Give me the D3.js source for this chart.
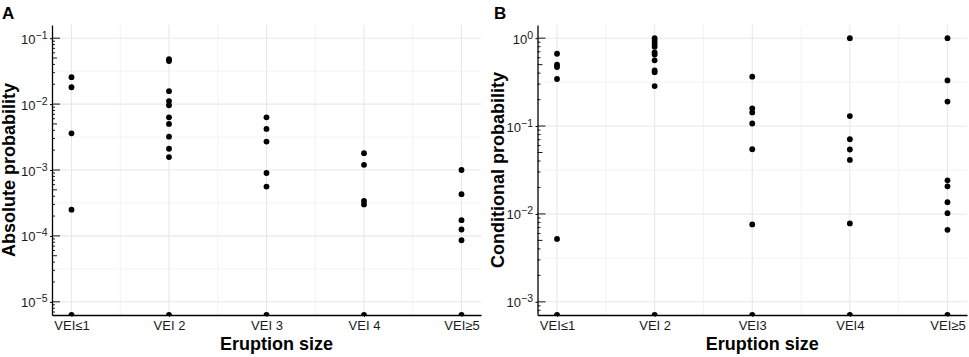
<!DOCTYPE html>
<html>
<head>
<meta charset="utf-8">
<script src="https://cdn.jsdelivr.net/npm/d3@7"></script>
<style>
    body { margin: 0; background: #fff; }
    text { font-family: "Liberation Sans", Arial, sans-serif; }
</style>
</head>
<body>
<div id="div-chart"></div>
<script>
/**
 * Data. 0 = no probability (drawn on the axis).
 */
var vei = [1, 2, 3, 4, 5];
var labelsA = ["VEI≤1", "VEI 2", "VEI 3", "VEI 4", "VEI≥5"];
var labelsB = ["VEI≤1", "VEI 2", "VEI3", "VEI4", "VEI≥5"];

var absVei1 = [0.0256, 0.018, 0.0036, 0.00025, 0];
var absVei2 = [0.048, 0.045, 0.0157, 0.0111, 0.0096, 0.0063, 0.0050, 0.0032, 0.0021, 0.00157, 0];
var absVei3 = [0.0063, 0.0042, 0.0027, 0.0009, 0.00056, 0];
var absVei4 = [0.0018, 0.0012, 0.00034, 0.0003, 0];
var absVei5 = [0.001, 0.00043, 0.000173, 0.000125, 0.000086, 0];

var condVei1 = [0.665, 0.50, 0.47, 0.343, 0.0052, 0];
var condVei2 = [1.0, 0.93, 0.86, 0.80, 0.69, 0.65, 0.56, 0.43, 0.41, 0.285, 0];
var condVei3 = [0.365, 0.159, 0.143, 0.107, 0.0545, 0.0076, 0];
var condVei4 = [1.0, 0.13, 0.0708, 0.0541, 0.0412, 0.0078, 0];
var condVei5 = [1.0, 0.331, 0.19, 0.0241, 0.0206, 0.0136, 0.0102, 0.0066, 0];

var decadesA = [-5, -4, -3, -2, -1];
var decadesB = [-3, -2, -1, 0];

{
    var width = 969;
    var height = 357;

    var svg = d3.select("#div-chart").append("svg")
        .attr("width", width)
        .attr("height", height);

    function toPoints(groups) {
        var pts = [];
        groups.forEach((g, i) => g.forEach(v => pts.push({ x: vei[i], v: v })));
        return pts;
    }

    function expLabel(d) {
        var k = Math.round(Math.log10(d));
        return k < 0 ? "−" + Math.abs(k) : String(k);
    }

    function drawPanel(opt) {
        var x = d3.scaleLinear()
            .domain([0.8, 5.2])
            .range([opt.left, opt.right]);

        var lo = d3.min(opt.decades), hi = d3.max(opt.decades);
        var pad = (hi - lo) * 0.05;
        var y = d3.scaleLog()
            .domain([Math.pow(10, lo - pad), Math.pow(10, hi + pad)])
            .range([315, 25]);

        var g = svg.append("g");

        // grid
        var minorY = d3.range(lo - 1, hi + 1).map(k => Math.pow(10, k + 0.5))
            .filter(v => v > y.domain()[0] && v < y.domain()[1]);
        var majorY = opt.decades.map(k => Math.pow(10, k));

        g.append("g").selectAll("line")
            .data(minorY)
            .join("line")
            .attr("x1", opt.left).attr("x2", opt.right)
            .attr("y1", d => y(d)).attr("y2", d => y(d))
            .attr("stroke", "#f0f0f0").attr("stroke-width", 0.8);
        g.append("g").selectAll("line")
            .data([1.5, 2.5, 3.5, 4.5])
            .join("line")
            .attr("x1", d => x(d)).attr("x2", d => x(d))
            .attr("y1", 25).attr("y2", 315)
            .attr("stroke", "#f0f0f0").attr("stroke-width", 0.8);
        g.append("g").selectAll("line")
            .data(majorY)
            .join("line")
            .attr("x1", opt.left).attr("x2", opt.right)
            .attr("y1", d => y(d)).attr("y2", d => y(d))
            .attr("stroke", "#e8e8e8").attr("stroke-width", 1.1);
        g.append("g").selectAll("line")
            .data(vei)
            .join("line")
            .attr("x1", d => x(d)).attr("x2", d => x(d))
            .attr("y1", 25).attr("y2", 315)
            .attr("stroke", "#e8e8e8").attr("stroke-width", 1.1);

        // points, clipped to the panel so the zeros sit on the axis
        var clipId = "clip-" + opt.name;
        svg.append("clipPath").attr("id", clipId)
            .append("rect")
            .attr("x", opt.left).attr("y", 25)
            .attr("width", opt.right - opt.left).attr("height", 290);

        g.append("g")
            .attr("clip-path", `url(#${clipId})`)
            .selectAll("circle")
            .data(toPoints(opt.groups))
            .join("circle")
            .attr("cx", d => x(d.x))
            .attr("cy", d => d.v > 0 ? y(d.v) : 315)
            .attr("r", 2.9)
            .attr("fill", "#000");

        // log ticks inside the y axis
        var logTicks = [];
        d3.range(lo - 1, hi + 1).forEach(k => {
            d3.range(1, 10).forEach(m => logTicks.push({ v: m * Math.pow(10, k), m: m }));
        });
        logTicks = logTicks.filter(d => d.v >= y.domain()[0] && d.v <= y.domain()[1]);
        g.append("g").selectAll("line")
            .data(logTicks)
            .join("line")
            .attr("x1", opt.left)
            .attr("x2", d => opt.left + (d.m === 1 ? 8 : d.m === 5 ? 5 : 3))
            .attr("y1", d => y(d.v)).attr("y2", d => y(d.v))
            .attr("stroke", "#000").attr("stroke-width", 0.9);

        // y axis
        var yAxis = g.append("g")
            .attr("transform", `translate(${opt.left},0)`)
            .call(d3.axisLeft(y)
                .tickValues(majorY)
                .tickSizeInner(2)
                .tickSizeOuter(0)
                .tickPadding(3)
                .tickFormat(""));
        yAxis.select(".domain").attr("stroke-width", 1.3);
        yAxis.selectAll(".tick line").attr("stroke-width", 1);
        yAxis.selectAll(".tick text").remove();
        yAxis.selectAll(".tick").append("text")
            .attr("x", -4.5)
            .attr("y", 5)
            .attr("text-anchor", "end")
            .attr("fill", "#1a1a1a")
            .style("font-size", "13px")
            .each(function (d) {
                var t = d3.select(this);
                t.append("tspan").text("10");
                t.append("tspan")
                    .attr("dy", -5)
                    .style("font-size", "10.5px")
                    .text(expLabel(d));
            });

        // x axis
        var xAxis = g.append("g")
            .attr("transform", "translate(0,315)")
            .call(d3.axisBottom(x)
                .tickValues(vei)
                .tickSizeInner(2)
                .tickSizeOuter(0)
                .tickPadding(4)
                .tickFormat((d, i) => opt.labels[i]));
        xAxis.select(".domain").attr("stroke-width", 1.3);
        xAxis.selectAll(".tick text")
            .attr("fill", "#1a1a1a")
            .style("font-size", "13px");

        // titles
        svg.append("text")
            .attr("x", (opt.left + opt.right) / 2 + 10)
            .attr("y", 350)
            .attr("text-anchor", "middle")
            .style("font-size", "18px")
            .style("font-weight", "bold")
            .text("Eruption size");

        svg.append("text")
            .attr("transform", `translate(${opt.titleX},170) rotate(-90)`)
            .attr("text-anchor", "middle")
            .style("font-size", "18px")
            .style("font-weight", "bold")
            .text(opt.yTitle);

        svg.append("text")
            .attr("x", opt.tagX)
            .attr("y", 18.5)
            .style("font-size", "17px")
            .style("font-weight", "bold")
            .text(opt.name);
    }

    drawPanel({
        name: "A",
        left: 52, right: 481,
        decades: decadesA,
        labels: labelsA,
        groups: [absVei1, absVei2, absVei3, absVei4, absVei5],
        yTitle: "Absolute probability",
        titleX: 15,
        tagX: 2
    });

    drawPanel({
        name: "B",
        left: 537.5, right: 967,
        decades: decadesB,
        labels: labelsB,
        groups: [condVei1, condVei2, condVei3, condVei4, condVei5],
        yTitle: "Conditional probability",
        titleX: 504,
        tagX: 494
    });
}
</script>
</body>
</html>
